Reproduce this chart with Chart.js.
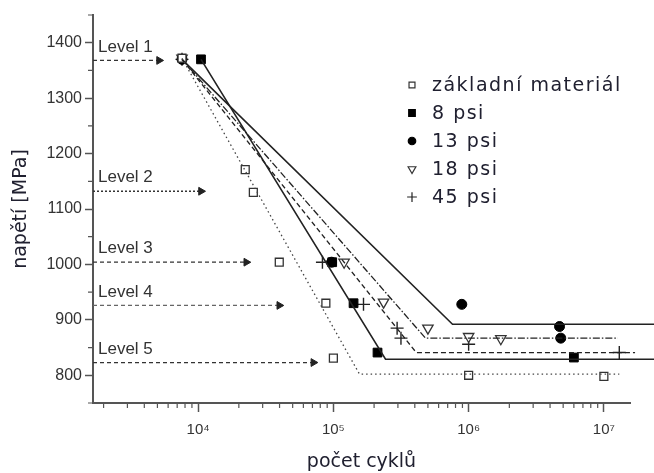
<!DOCTYPE html>
<html>
<head>
<meta charset="utf-8">
<script src="https://cdn.jsdelivr.net/npm/chart.js@4.4.1/dist/chart.umd.min.js"></script>
<style>
    body { margin: 0; background: #fff; }
    #obal { width: 654px; height: 473px; }
</style>
</head>
<body>
<div id="obal"><canvas id="graf"></canvas></div>
<script>
// osa x = pocet cyklu (log), osa y = napeti [MPa]
const xMin = 1670, xMax = 1.56e7;
const yMin = 750, yMax = 1450;
const xMajorTicks = [1e4, 1e5, 1e6, 1e7];
const xTickLabels = ['10⁴', '10⁵', '10⁶', '10⁷'];

const seriesNames = ['základní materiál', '8 psi', '13 psi', '18 psi', '45 psi'];

// namerene body
const baseN = [7600, 22300, 25600, 39800, 88000, 100000, 1.0e6, 1.0e7];
const baseS = [1372, 1171, 1130, 1004, 930, 831, 800, 798];
const psi8N = [10500, 98000, 141000, 212000, 6.0e6];
const psi8S = [1370, 1004, 930, 841, 832];
const psi13N = [7600, 97000, 890000, 4.7e6, 4.8e6];
const psi13S = [1370, 1004, 928, 888, 867];
const psi18N = [7600, 120000, 235000, 500000, 1.0e6, 1.73e6];
const psi18S = [1372, 1004, 932, 885, 870, 866];
const psi45N = [7600, 83000, 167000, 296000, 316000, 1.0e6, 1.3e7];
const psi45S = [1370, 1004, 928, 885, 867, 856, 841];

// prolozene krivky: zacatek, zlom, konec
const baseFitN = [7600, 156000, 1.3e7];
const baseFitS = [1372, 802, 802];
const psi8FitN = [10500, 243000, 2.4e7];
const psi8FitS = [1370, 829, 829];
const psi13FitN = [7600, 760000, 2.4e7];
const psi13FitS = [1370, 892, 892];
const psi18FitN = [7600, 480000, 1.27e7];
const psi18FitS = [1370, 867, 867];
const psi45FitN = [7600, 410000, 1.7e7];
const psi45FitS = [1370, 841, 841];

// zatezne hladiny (sipky)
const levelNames = ['Level 1', 'Level 2', 'Level 3', 'Level 4', 'Level 5'];
const levelS = [1368, 1132, 1004, 926, 823];
const levelEndN = [5140, 10500, 22700, 39800, 71100];

function body(n, s) {
    return n.map((v, i) => ({ x: v, y: s[i] }));
}

const styly = [
    { pointStyle: 'rect', radius: 5.6, rotation: 0, fill: '#fff', border: '#333', width: 1.3, dash: [1.5, 3] },
    { pointStyle: 'rect', radius: 6.2, rotation: 0, fill: '#000', border: '#000', width: 1, dash: [] },
    { pointStyle: 'circle', radius: 5, rotation: 0, fill: '#000', border: '#000', width: 1, dash: [] },
    { pointStyle: 'triangle', radius: 6, rotation: 180, fill: '#fff', border: '#333', width: 1.3, dash: [7, 2, 1.5, 2] },
    { pointStyle: 'cross', radius: 6.5, rotation: 0, fill: '#222', border: '#222', width: 1.4, dash: [5, 3] }
];

const mereni = [body(baseN, baseS), body(psi8N, psi8S), body(psi13N, psi13S), body(psi18N, psi18S), body(psi45N, psi45S)];
const krivky = [body(baseFitN, baseFitS), body(psi8FitN, psi8FitS), body(psi13FitN, psi13FitS), body(psi18FitN, psi18FitS), body(psi45FitN, psi45FitS)];

const datasets = [];

levelNames.forEach((name, i) => {
    datasets.push({
        label: name,
        data: [{ x: xMin, y: levelS[i] }, { x: levelEndN[i], y: levelS[i] }],
        showLine: true,
        borderColor: i === 3 ? '#666' : '#333',
        borderWidth: 1.3,
        borderDash: i === 1 ? [2, 2] : [4, 3],
        pointRadius: [0, 4.5],
        pointStyle: 'triangle',
        pointRotation: 90,
        pointBackgroundColor: '#222',
        pointBorderColor: '#222',
        pointBorderWidth: 1
    });
});

krivky.forEach((data, i) => {
    datasets.push({
        label: seriesNames[i] + ' fit',
        data: data,
        showLine: true,
        borderColor: i === 0 ? '#444' : '#222',
        borderWidth: i === 1 || i === 2 ? 1.6 : 1.3,
        borderDash: styly[i].dash,
        pointRadius: 0,
        clip: false
    });
});

mereni.forEach((data, i) => {
    datasets.push({
        label: seriesNames[i],
        data: data,
        showLine: false,
        pointStyle: styly[i].pointStyle,
        pointRadius: styly[i].radius,
        pointRotation: styly[i].rotation,
        pointBackgroundColor: styly[i].fill,
        pointBorderColor: styly[i].border,
        pointBorderWidth: styly[i].width,
        clip: false
    });
});

const popisky = {
    id: 'popisky',
    afterDatasetsDraw(chart) {
        const { ctx, chartArea } = chart;
        const x = chart.scales.x, y = chart.scales.y;
        ctx.save();

        // kratke vedlejsi carky
        ctx.strokeStyle = '#555';
        ctx.lineWidth = 1.2;
        ctx.beginPath();
        x.ticks.forEach(t => {
            if (!xMajorTicks.includes(t.value)) {
                const px = x.getPixelForValue(t.value);
                ctx.moveTo(px, chartArea.bottom);
                ctx.lineTo(px, chartArea.bottom + 5);
            }
        });
        y.ticks.forEach(t => {
            if (t.value % 100 !== 0) {
                const py = y.getPixelForValue(t.value);
                ctx.moveTo(chartArea.left, py);
                ctx.lineTo(chartArea.left - 5, py);
            }
        });
        ctx.stroke();

        // popisky hladin
        ctx.font = '17px "Liberation Sans", Arial, sans-serif';
        ctx.fillStyle = '#333';
        ctx.textBaseline = 'bottom';
        ctx.textAlign = 'left';
        levelNames.forEach((name, i) => {
            ctx.fillText(name, chartArea.left + 5, y.getPixelForValue(levelS[i]) - 5);
        });

        // legenda
        ctx.font = '19px "DejaVu Sans", sans-serif';
        ctx.letterSpacing = '1.5px';
        ctx.textBaseline = 'middle';
        seriesNames.forEach((name, i) => {
            const ly = 85 + i * 28;
            const s = styly[i];
            ctx.fillStyle = s.fill;
            ctx.strokeStyle = s.border;
            Chart.helpers.drawPoint(ctx, {
                pointStyle: s.pointStyle,
                rotation: s.rotation,
                radius: s.radius * 0.75,
                borderWidth: s.width
            }, 412, ly);
            ctx.fillStyle = '#202030';
            ctx.fillText(name, 432, ly + 1);
        });
        ctx.restore();
    }
};

const ctx = document.getElementById('graf').getContext('2d');
const graf = new Chart(ctx, {
    type: 'scatter',
    data: { datasets: datasets },
    options: {
        responsive: true,
        maintainAspectRatio: false,
        animation: false,
        layout: { padding: { top: 15, right: 24 } },
        plugins: {
            legend: { display: false },
            tooltip: { enabled: false }
        },
        scales: {
            x: {
                type: 'logarithmic',
                min: xMin,
                max: xMax,
                afterBuildTicks(scale) {
                    const vals = [];
                    for (let e = 3; e <= 7; e++) {
                        for (let m = 1; m <= 9; m++) {
                            const v = m * Math.pow(10, e);
                            if (v >= xMin && v <= xMax) vals.push({ value: v });
                        }
                    }
                    scale.ticks = vals;
                },
                afterFit(scale) { scale.height = 70; },
                border: { color: '#555', width: 2 },
                grid: {
                    drawOnChartArea: false,
                    tickLength: 9,
                    tickWidth: 1.5,
                    tickColor: c => xMajorTicks.includes(c.tick && c.tick.value) ? '#555' : 'rgba(0,0,0,0)'
                },
                ticks: {
                    autoSkip: false,
                    maxRotation: 0,
                    padding: 9,
                    color: '#333',
                    font: { family: '"Liberation Sans", Arial, sans-serif', size: 15 },
                    callback: v => {
                        const i = xMajorTicks.indexOf(v);
                        return i >= 0 ? xTickLabels[i] : '';
                    }
                },
                title: {
                    display: true,
                    text: 'počet cyklů',
                    color: '#202030',
                    font: { family: '"DejaVu Sans", sans-serif', size: 19 },
                    padding: { top: 0, bottom: 0 }
                }
            },
            y: {
                min: yMin,
                max: yMax,
                afterFit(scale) { scale.width = 93; },
                border: { color: '#555', width: 2 },
                grid: {
                    drawOnChartArea: false,
                    tickLength: 8,
                    tickWidth: 1.5,
                    tickColor: c => (c.tick && c.tick.value % 100 === 0) ? '#555' : 'rgba(0,0,0,0)'
                },
                ticks: {
                    stepSize: 50,
                    autoSkip: false,
                    padding: 3,
                    color: '#333',
                    font: { family: '"Liberation Sans", Arial, sans-serif', size: 16 },
                    callback: v => v % 100 === 0 ? v : ''
                },
                title: {
                    display: true,
                    text: 'napětí [MPa]',
                    color: '#202030',
                    font: { family: '"DejaVu Sans", sans-serif', size: 19 },
                    padding: { top: 10, bottom: 0 }
                }
            }
        }
    },
    plugins: [popisky]
});
</script>
</body>
</html>
